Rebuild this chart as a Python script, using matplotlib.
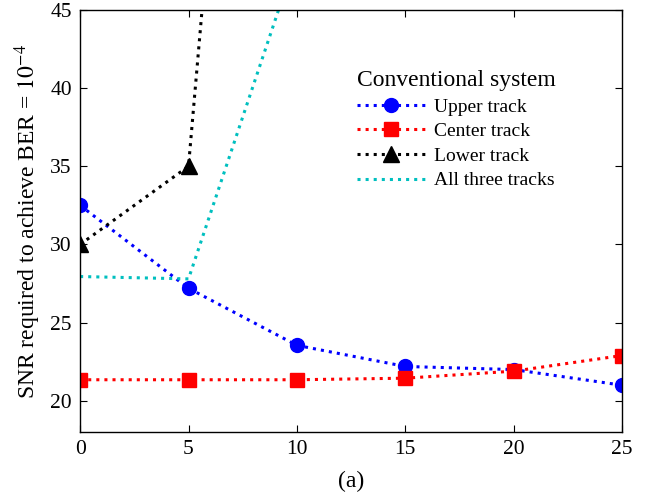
import matplotlib
matplotlib.use("Agg")
import matplotlib.pyplot as plt

# Data.
x_full = [0, 5, 10, 15, 20, 25]
upper = [32.5, 27.2, 23.55, 22.2, 22.0, 21.0]
center = [21.35, 21.35, 21.35, 21.45, 21.9, 22.9]
x_lower = [0, 5, 10]
lower = [30.0, 35.0, 115.0]
x_all = [0, 5, 10]
all_three = [27.95, 27.8, 48.5]

x_ticks = [0, 5, 10, 15, 20, 25]
y_ticks = [20, 25, 30, 35, 40, 45]

plt.rcParams["font.family"] = ["Liberation Serif", "DejaVu Serif"]
plt.rcParams["mathtext.fontset"] = "stix"

fig = plt.figure(figsize=(6.46, 4.95), dpi=100)
ax = fig.add_axes([0.124, 0.127, 0.839, 0.853])

ax.plot(x_full, upper, color="blue", linestyle=":", linewidth=2.2,
        marker="o", markersize=10, label="Upper track")
ax.plot(x_full, center, color="red", linestyle=":", linewidth=2.2,
        marker="s", markersize=10, label="Center track")
ax.plot(x_lower, lower, color="black", linestyle=":", linewidth=2.2,
        marker="^", markersize=12, label="Lower track")
ax.plot(x_all, all_three, color="#00BFBF", linestyle=":", linewidth=2.2,
        label="All three tracks")

ax.set_xlim(0, 25)
ax.set_ylim(18, 45)
ax.set_xticks(x_ticks)
ax.set_yticks(y_ticks)
ax.tick_params(direction="in", top=True, right=True, labelsize=15.5, length=5,
               pad=6)
for s in ax.spines.values():
    s.set_linewidth(1.0)

ax.set_xlabel("(a)", fontsize=17, labelpad=8)
ax.set_ylabel(r"SNR required to achieve BER = $10^{-4}$", fontsize=17,
              labelpad=5)

leg = ax.legend(loc="upper left", bbox_to_anchor=(0.485, 0.89), frameon=False,
                title="Conventional system", fontsize=14, title_fontsize=17,
                handlelength=3.5, handletextpad=0.5, labelspacing=0.36,
                borderpad=0.2)
leg._legend_box.align = "left"

fig.savefig("out.png", dpi=100)
